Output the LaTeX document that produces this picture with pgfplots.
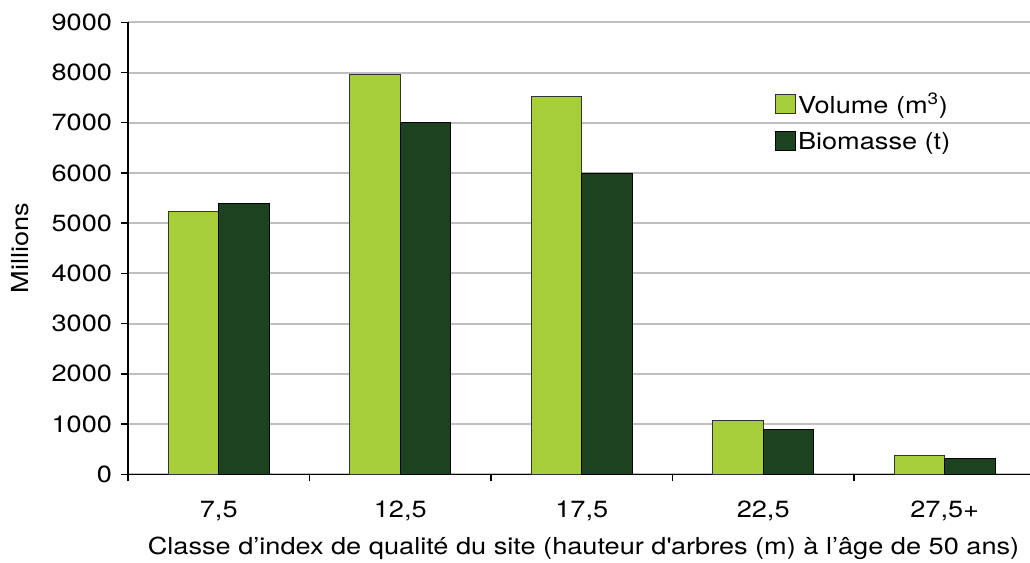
\documentclass[border=0pt]{standalone}
\usepackage{fontspec}
\setmainfont{TeX Gyre Heros}[FakeStretch=1.16]
\usepackage{pgfplots}
\pgfplotsset{compat=1.18}
\definecolor{lgreen}{HTML}{A6CE39}
\definecolor{dgreen}{HTML}{1C4220}
\definecolor{gridgray}{HTML}{C0C0C0}
\newcommand\myfont{\fontsize{23.4bp}{28bp}\selectfont}
\begin{document}
\begin{tikzpicture}
\begin{axis}[
  at={(0,0)}, anchor=south west,
  scale only axis, width=902bp, height=452bp,
  xmin=-0.5, xmax=4.47, ymin=0, ymax=9000,
  axis x line*=bottom, axis y line*=left,
  axis line style={line width=1.5bp, black},
  ytick={0,1000,2000,3000,4000,5000,6000,7000,8000,9000},
  yticklabels={0,1000,2000,3000,4000,5000,6000,7000,8000,9000},
  ymajorgrids, grid style={gridgray, line width=2bp},
  tick align=outside, major tick length=7bp,
  major tick style={line width=1.5bp, black},
  xtick={-0.5,0.5,1.5,2.5,3.5}, xticklabels={},
  extra x ticks={0,1,2,3,4},
  extra x tick labels={{7,5},{12,5},{17,5},{22,5},{27,5+}},
  extra x tick style={major tick length=0pt, xticklabel style={anchor=base, yshift=-42.7bp}},
  yticklabel style={xshift=-5.5bp},
  ticklabel style={font=\myfont},
  /pgf/number format/assume math mode=true,
  ylabel={Millions},
  ylabel style={at={(axis description cs:-0.1197,0.5)}, anchor=center, font=\myfont},
  xlabel={Classe d’index de qualité du site (hauteur d\textquotesingle arbres (m) à l’âge de 50 ans)},
  xlabel style={at={(axis description cs:0.505,-0.163)}, anchor=center, font=\myfont},
  ybar=0pt, bar width=50.5bp,
  legend style={draw=none, fill=none, font=\myfont, at={(axis description cs:0.714,0.853)}, anchor=north west, row sep=13bp},
  legend cell align=left,
  legend image code/.code={\draw[#1] (0bp,-9.5bp) rectangle (20bp,9.5bp);},
]
\addplot[fill=lgreen, draw=black!80, line width=0.8bp] coordinates {(0,5240) (1,7970) (2,7525) (3,1080) (4,380)};
\addplot[fill=dgreen, draw=black, line width=0.8bp] coordinates {(0,5385) (1,7000) (2,6000) (3,898) (4,312)};
\legend{Volume (m\textsuperscript{3}), Biomasse (t)}
\end{axis}
\pgfresetboundingbox
\useasboundingbox (-128bp,-88.7bp) rectangle (902bp,474.3bp);
\end{tikzpicture}
\end{document}
